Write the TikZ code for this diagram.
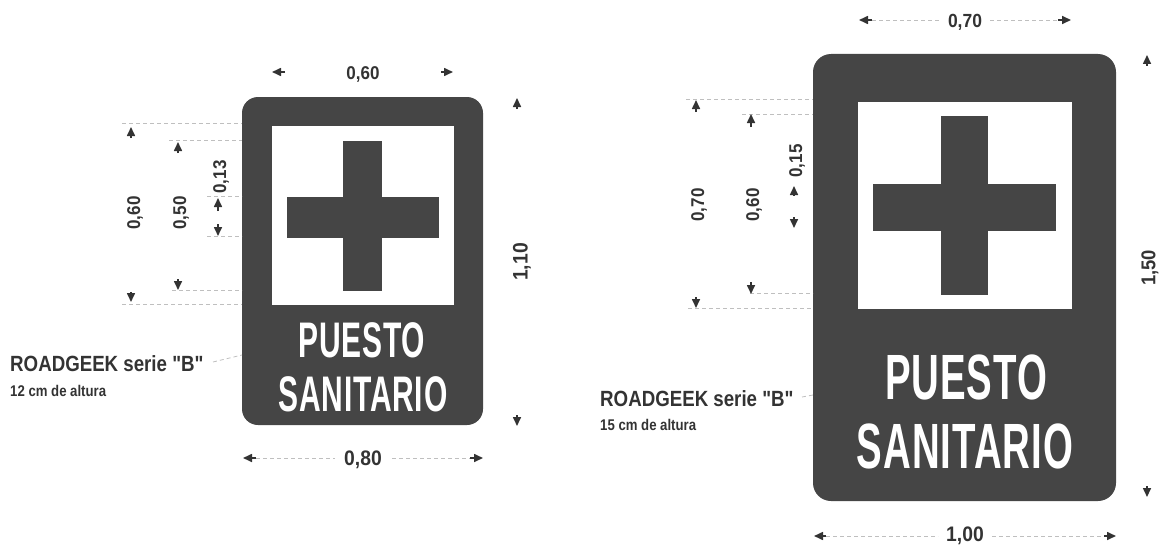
\documentclass[tikz,border=0pt]{standalone}
\usepackage{fontspec}
\usetikzlibrary{arrows.meta}
\setmainfont{Liberation Sans}
\newfontfamily\signfont[FakeStretch=0.6,LetterSpace=1.5]{Liberation Sans Bold}
\newfontfamily\notefont[FakeStretch=0.85]{Liberation Sans Bold}
\newfontfamily\dimfont[FakeStretch=0.92]{Liberation Sans Bold}
\newcommand{\seg}[4]{\coordinate (#2a) at (#3);\coordinate (#2b) at (#4);\draw[#1] (#2a) -- (#2b);}
\definecolor{signgray}{HTML}{454545}
\definecolor{inkgray}{HTML}{333333}
\tikzset{
  dimtext/.style={inner sep=0pt,text=inkgray,font=\dimfont\fontsize{18.5}{18.5}\selectfont},
  dimtextv/.style={dimtext,rotate=90},
  notetext/.style={inner sep=0pt,anchor=west,text=inkgray,font=\notefont\fontsize{22}{22}\selectfont},
  subtext/.style={inner sep=0pt,anchor=west,text=inkgray,font=\notefont\fontsize{15.5}{15.5}\selectfont},
  bigsign/.style={inner sep=0pt,text=white,font=\signfont\fontsize{64}{64}\selectfont},
  smallsign/.style={inner sep=0pt,text=white,font=\signfont\fontsize{50}{50}\selectfont},
  extline/.style={draw=gray!50,line width=0.8pt,dash pattern=on 4pt off 3pt},
  dimtip/.style={draw=inkgray,line width=1.6pt,-{Triangle[length=9pt,width=8pt]}},
}
\begin{document}
\begin{tikzpicture}[x=1pt,y=-1pt]
\useasboundingbox (0,0) rectangle (1159,551);
% left sign
\fill[signgray,rounded corners=16pt] (242,97) rectangle (483,425);
\fill[white] (272,126) rectangle (454,305);
\fill[signgray] (343,141) rectangle (382,291);
\fill[signgray] (287,197) rectangle (439,238);
\node[smallsign] (lp) at (362,340) {PUESTO};
\node[smallsign] (ls) at (363,394.5) {SANITARIO};
% right sign
\fill[signgray,rounded corners=18pt] (813,54) rectangle (1116,501);
\fill[white] (858,102) rectangle (1072,309);
\fill[signgray] (941,116) rectangle (988,295);
\fill[signgray] (873,184) rectangle (1056,231);
\node[bigsign] (rp) at (966,377) {PUESTO};
\node[bigsign] (rs) at (965,446.5) {SANITARIO};
% left labels
\node[dimtext] (lw6) at (363,74) {0,60};
\node[dimtext,font=\dimfont\fontsize{21}{21}\selectfont] (lw8) at (363,460) {0,80};
\node[dimtextv] (lh6) at (135,213) {0,60};
\node[dimtextv] (lh5) at (181,213) {0,50};
\node[dimtextv] (lh13) at (221,177) {0,13};
\node[dimtextv,font=\dimfont\fontsize{21}{21}\selectfont] (lh11) at (522,262) {1,10};
\node[notetext] (lnote) at (10,364) {ROADGEEK serie "B"};
\node[subtext] (lsub) at (10,391) {12 cm de altura};
% left extension lines
\seg{extline}{e1}{122,123}{242,123}
\seg{extline}{e2}{169,140}{242,140}
\seg{extline}{e3}{207,196}{242,196}
\seg{extline}{e4}{207,236}{242,236}
\seg{extline}{e5}{172,290}{242,290}
\seg{extline}{e6}{122,304}{242,304}
\seg{extline}{e7}{213,362}{242,355}
\seg{extline}{e8}{256,458}{335,458}
\seg{extline}{e9}{392,458}{470,458}
% left tips
\seg{dimtip}{t1}{285,72}{272,72}
\seg{dimtip}{t2}{441,72}{453,72}
\seg{dimtip}{t3}{256,458}{243,458}
\seg{dimtip}{t4}{470,458}{483,458}
\seg{dimtip}{t5}{131,138}{131,127}
\seg{dimtip}{t6}{131,292}{131,302}
\seg{dimtip}{t7}{178,153}{178,142}
\seg{dimtip}{t8}{178,279}{178,290}
\seg{dimtip}{t9}{218,211}{218,198}
\seg{dimtip}{t10}{218,224}{218,236}
\seg{dimtip}{t11}{517,109}{517,98}
\seg{dimtip}{t12}{517,415}{517,426}
% right labels
\node[dimtext,font=\dimfont\fontsize{19}{19}\selectfont] (rw7) at (965,22) {0,70};
\node[dimtext,font=\dimfont\fontsize{21}{21}\selectfont] (rw1) at (965,536) {1,00};
\node[dimtextv] (rh7) at (699,205) {0,70};
\node[dimtextv] (rh6) at (754,205) {0,60};
\node[dimtextv] (rh15) at (797,161) {0,15};
\node[dimtextv,font=\dimfont\fontsize{20}{20}\selectfont] (rh1) at (1150,268) {1,50};
\node[notetext] (rnote) at (600,399) {ROADGEEK serie "B"};
\node[subtext] (rsub) at (600,425) {15 cm de altura};
% right extension lines
\seg{extline}{f1}{686,99}{813,99}
\seg{extline}{f2}{742,114}{813,114}
\seg{extline}{f3}{750,293}{813,293}
\seg{extline}{f4}{688,308}{813,308}
\seg{extline}{f5}{802,397}{813,395}
\seg{extline}{f6}{872,20}{940,20}
\seg{extline}{f7}{990,20}{1058,20}
\seg{extline}{f8}{826,536}{938,536}
\seg{extline}{f9}{992,536}{1104,536}
% right tips
\seg{dimtip}{u1}{872,20}{859,20}
\seg{dimtip}{u2}{1058,20}{1071,20}
\seg{dimtip}{u3}{826,536}{814,536}
\seg{dimtip}{u4}{1104,536}{1116,536}
\seg{dimtip}{u5}{696,112}{696,100}
\seg{dimtip}{u6}{696,297}{696,308}
\seg{dimtip}{u7}{751,127}{751,114}
\seg{dimtip}{u8}{751,282}{751,294}
\seg{dimtip}{u9}{794,195}{794,186}
\seg{dimtip}{u10}{794,217}{794,228}
\seg{dimtip}{u11}{1147,66}{1147,55}
\seg{dimtip}{u12}{1147,486}{1147,497}
\end{tikzpicture}
\end{document}
